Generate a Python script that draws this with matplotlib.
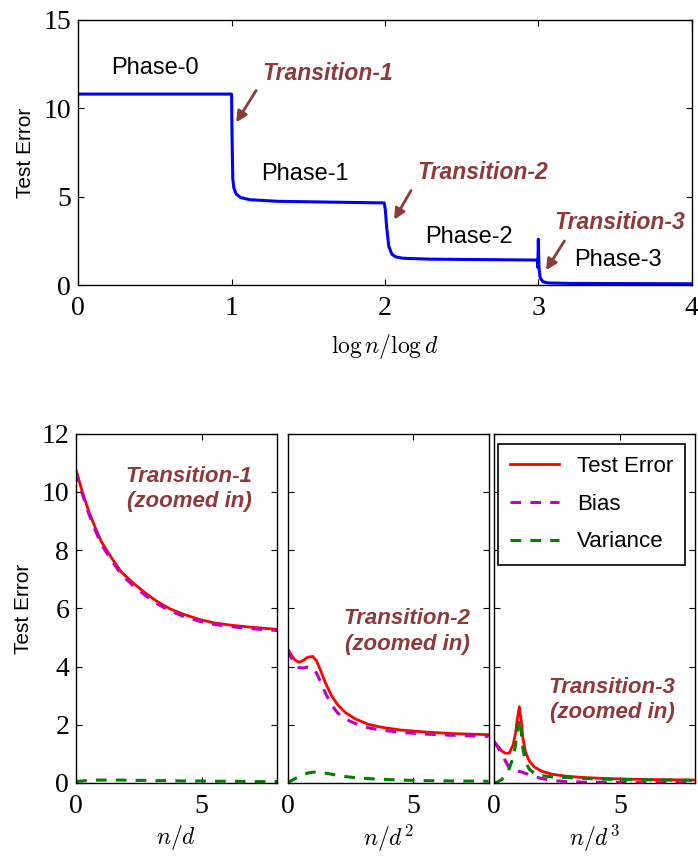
import matplotlib
matplotlib.use("Agg")
import matplotlib.pyplot as plt

plt.rcParams['font.family'] = 'Liberation Serif'
plt.rcParams['mathtext.fontset'] = 'cm'

SANS = 'Liberation Sans'
BROWN = '#8c3a3a'

# ---- top panel: test error vs log n / log d ----
top_x = [0.0, 1.0, 1.003, 1.008, 1.015, 1.03, 1.06, 1.12, 1.3, 1.6, 1.995,
         2.002, 2.012, 2.025, 2.045, 2.07, 2.12, 2.3, 2.6, 2.995,
         2.997, 3.0, 3.004, 3.012, 3.03, 3.06, 3.2, 4.0]
top_err = [10.8, 10.8, 8.5, 6.0, 5.5, 5.15, 4.95, 4.83, 4.74, 4.7, 4.65,
           4.3, 3.2, 2.2, 1.75, 1.6, 1.52, 1.47, 1.45, 1.42,
           1.0, 2.6, 1.0, 0.4, 0.2, 0.13, 0.1, 0.08]

phase_labels = ['Phase-0', 'Phase-1', 'Phase-2', 'Phase-3']
phase_xy = [(0.5, 12.3), (1.48, 6.3), (2.55, 2.7), (3.52, 1.4)]
trans_labels = ['Transition-1', 'Transition-2', 'Transition-3']
trans_text_xy = [(1.63, 11.95), (2.64, 6.35), (3.53, 3.55)]
trans_tail = [(1.16, 11.0), (2.17, 5.35), (3.17, 2.5)]
trans_head = [(1.03, 9.2), (2.06, 3.7), (3.05, 0.85)]

# ---- bottom panels: zoomed in transitions ----
z1_x = [0, 0.25, 0.5, 0.75, 1.0, 1.4, 1.8, 2.3, 2.8, 3.2, 3.7, 4.2, 4.9, 5.5, 6.2, 7.0, 8.0]
z1_err = [10.75, 10.0, 9.35, 8.8, 8.3, 7.75, 7.25, 6.85, 6.5, 6.25, 6.0, 5.82, 5.62, 5.5, 5.42, 5.35, 5.28]
z1_bias = [10.7, 9.93, 9.27, 8.71, 8.21, 7.66, 7.16, 6.76, 6.42, 6.17, 5.93, 5.75, 5.56, 5.45, 5.37, 5.3, 5.24]
z1_var = [0.05, 0.07, 0.09, 0.1, 0.1, 0.1, 0.1, 0.09, 0.09, 0.08, 0.08, 0.07, 0.07, 0.06, 0.06, 0.05, 0.05]

z2_x = [0, 0.15, 0.3, 0.45, 0.6, 0.8, 1.0, 1.15, 1.3, 1.5, 1.75, 2.0, 2.3, 2.7, 3.2, 3.7, 4.5, 5.5, 6.5, 8.0]
z2_err = [4.62, 4.4, 4.22, 4.15, 4.2, 4.32, 4.35, 4.2, 3.9, 3.45, 3.0, 2.68, 2.42, 2.2, 2.02, 1.92, 1.82, 1.75, 1.7, 1.66]
z2_bias = [4.57, 4.3, 4.08, 3.97, 3.95, 3.98, 3.97, 3.78, 3.5, 3.1, 2.68, 2.4, 2.2, 2.04, 1.9, 1.82, 1.74, 1.68, 1.64, 1.6]
z2_var = [0.0, 0.08, 0.15, 0.22, 0.28, 0.34, 0.37, 0.38, 0.37, 0.34, 0.3, 0.26, 0.22, 0.18, 0.15, 0.13, 0.1, 0.08, 0.07, 0.06]

z3_x = [0, 0.15, 0.3, 0.45, 0.6, 0.75, 0.85, 0.92, 1.0, 1.08, 1.15, 1.25, 1.4, 1.6, 1.9, 2.3, 2.8, 3.5, 4.5, 6.0, 8.0]
z3_err = [1.42, 1.26, 1.1, 1.02, 1.03, 1.3, 1.72, 2.2, 2.62, 2.1, 1.5, 1.05, 0.75, 0.55, 0.4, 0.3, 0.24, 0.19, 0.15, 0.12, 0.1]
z3_bias = [1.42, 1.22, 0.98, 0.75, 0.52, 0.44, 0.42, 0.41, 0.4, 0.38, 0.36, 0.33, 0.28, 0.22, 0.15, 0.09, 0.05, 0.03, 0.02, 0.01, 0.01]
z3_var = [0.0, 0.04, 0.12, 0.27, 0.5, 0.86, 1.3, 1.79, 2.2, 1.72, 1.14, 0.72, 0.47, 0.33, 0.25, 0.21, 0.19, 0.16, 0.13, 0.11, 0.09]

zoom_x = [z1_x, z2_x, z3_x]
zoom_err = [z1_err, z2_err, z3_err]
zoom_bias = [z1_bias, z2_bias, z3_bias]
zoom_var = [z1_var, z2_var, z3_var]
zoom_xlabels = [r'$n/d$', r'$n/d^2$', r'$n/d^3$']
zoom_text_xy = [(4.5, 10.1), (4.75, 5.2), (4.7, 2.85)]


def style_ticks(ax):
    ax.tick_params(direction='in', top=True, right=True, length=4,
                   labelsize=20, width=0.8)
    ax.tick_params(axis='x', pad=8)
    ax.tick_params(axis='y', pad=5)
    for s in ax.spines.values():
        s.set_linewidth(1.0)


fig = plt.figure(figsize=(6.98, 8.59), dpi=100)

ax = fig.add_axes([0.112, 0.668, 0.879, 0.309])
ax.plot(top_x, top_err, color='blue', lw=2.2)
ax.set_xlim(0, 4)
ax.set_ylim(0, 15)
ax.set_xticks([0, 1, 2, 3, 4])
ax.set_yticks([0, 5, 10, 15])
style_ticks(ax)
ax.set_ylabel('Test Error', family=SANS, fontsize=15, labelpad=6)
ax.set_xlabel(r'$\log n/\log d$', fontsize=17, labelpad=8)
for lab, (px, py) in zip(phase_labels, phase_xy):
    ax.text(px, py, lab, family=SANS, fontsize=17, ha='center', va='center')
for lab, (tx, ty), tail, head in zip(trans_labels, trans_text_xy, trans_tail, trans_head):
    ax.text(tx, ty, lab, family=SANS, fontsize=16.5, fontweight='bold',
            fontstyle='italic', color=BROWN, ha='center', va='center')
    ax.annotate('', xy=head, xytext=tail,
                arrowprops=dict(arrowstyle='-|>', color=BROWN, lw=2,
                                mutation_scale=16, shrinkA=0, shrinkB=0))

lefts = [0.109, 0.412, 0.708]
width = 0.288
for i in range(3):
    a = fig.add_axes([lefts[i], 0.0885, width, 0.4065])
    a.plot(zoom_x[i], zoom_err[i], color='red', lw=2, label='Test Error')
    a.plot(zoom_x[i], zoom_bias[i], color='#c000c0', lw=2.2, ls=(0, (3.5, 3)), label='Bias')
    a.plot(zoom_x[i], zoom_var[i], color='green', lw=2.2, ls=(0, (3.5, 3)), label='Variance')
    a.set_xlim(0, 8)
    a.set_ylim(0, 12)
    a.set_xticks([0, 5])
    a.set_yticks([0, 2, 4, 6, 8, 10, 12])
    style_ticks(a)
    if i > 0:
        a.set_yticklabels([])
    else:
        a.set_ylabel('Test Error', family=SANS, fontsize=15, labelpad=6)
    a.set_xlabel(zoom_xlabels[i], fontsize=17, labelpad=3)
    tx, ty = zoom_text_xy[i]
    a.text(tx, ty, 'Transition-%d\n(zoomed in)' % (i + 1), family=SANS, fontsize=16,
           fontweight='bold', fontstyle='italic', color=BROWN, ha='center',
           va='center', linespacing=1.3)
    if i == 2:
        leg = a.legend(loc='upper right', prop={'family': SANS, 'size': 16},
                       fancybox=False, edgecolor='black', framealpha=1,
                       handlelength=2.2, labelspacing=0.75, borderpad=0.55,
                       borderaxespad=0.45, handletextpad=0.8)
        leg.get_frame().set_linewidth(1.2)

fig.savefig('out.png', dpi=100)
